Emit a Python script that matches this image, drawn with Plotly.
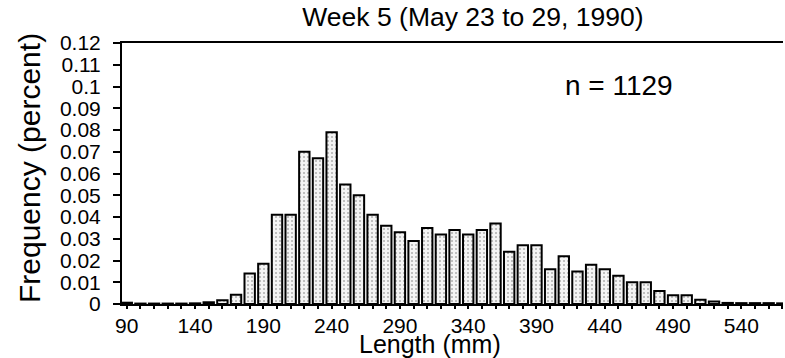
import plotly.graph_objects as go

lengths = list(range(90, 580, 10))
freq = [0.0006, 0.0002, 0.0002, 0.0002, 0.0002, 0.0003, 0.0008, 0.0017, 0.0042, 0.014,
        0.0185, 0.041, 0.041, 0.070, 0.067, 0.079, 0.055, 0.050, 0.041, 0.036,
        0.033, 0.029, 0.035, 0.032, 0.034, 0.032, 0.034, 0.037, 0.024, 0.027,
        0.027, 0.016, 0.022, 0.015, 0.018, 0.016, 0.013, 0.010, 0.010, 0.006,
        0.004, 0.004, 0.002, 0.0012, 0.0005, 0.0004, 0.0004, 0.0004, 0.0003]

x_tick_vals = [90, 140, 190, 240, 290, 340, 390, 440, 490, 540]
y_tick_vals = [i / 100 for i in range(0, 13)]
y_tick_text = ["0", "0.01", "0.02", "0.03", "0.04", "0.05", "0.06", "0.07", "0.08",
               "0.09", "0.1", "0.11", "0.12"]

title_text = "Week 5 (May 23 to 29, 1990)"
n_text = "n = 1129"
x_title = "Length (mm)"
y_title = "Frequency (percent)"

FONT = "Liberation Sans, Arial, sans-serif"

fig = go.Figure()
fig.add_trace(go.Bar(
    x=lengths, y=freq, width=7.6,
    marker=dict(color="#f2f2f2",
                line=dict(color="black", width=2),
                pattern=dict(shape=".", fgcolor="#666666", bgcolor="#f4f4f4",
                             size=4, solidity=0.2)),
    showlegend=False,
))

fig.update_layout(
    width=785, height=358,
    margin=dict(l=122, r=2, t=43, b=54),
    paper_bgcolor="white", plot_bgcolor="white",
    font=dict(family=FONT, color="black"),
    title=dict(text=title_text, x=0.6025, y=1 - 17 / 358, xref="container",
               yref="container", xanchor="center", yanchor="middle",
               font=dict(size=26.5, family=FONT, color="black")),
    bargap=0.2,
)

fig.update_xaxes(
    range=[86.5, 570.5], showgrid=False, zeroline=False,
    showline=True, linecolor="black", linewidth=2, mirror=True,
    tickmode="array", tickvals=x_tick_vals,
    ticks="outside", ticklen=2, tickwidth=1.5, tickcolor="black",
    minor=dict(ticks="outside", ticklen=3, tickwidth=1.5, tickcolor="black", dtick=10, tick0=90, showgrid=False),
    tickfont=dict(size=21, family=FONT, color="black"),
)
fig.update_yaxes(
    range=[0, 0.12], showgrid=False, zeroline=False,
    showline=True, linecolor="black", linewidth=2,
    tickmode="array", tickvals=y_tick_vals, ticktext=y_tick_text,
    ticks="outside", ticklen=7, tickwidth=1.5, tickcolor="black",
    tickfont=dict(size=21, family=FONT, color="black"),
    ticklabelstandoff=8,
)

fig.add_annotation(text=n_text, xref="paper", yref="paper",
                   x=(619 - 122) / 661, y=(304 - 85) / 261,
                   xanchor="center", yanchor="middle", showarrow=False,
                   font=dict(size=28, family=FONT, color="black"))
fig.add_annotation(text=x_title, xref="paper", yref="paper",
                   x=(430 - 122) / 661, y=-(344 - 304) / 261,
                   xanchor="center", yanchor="middle", showarrow=False,
                   font=dict(size=25, family=FONT, color="black"))
fig.add_annotation(text=y_title, xref="paper", yref="paper",
                   x=-(122 - 29) / 661, y=(304 - 168) / 261, textangle=-90,
                   xanchor="center", yanchor="middle", showarrow=False,
                   font=dict(size=30, family=FONT, color="black"))

fig.write_html("out.html")
